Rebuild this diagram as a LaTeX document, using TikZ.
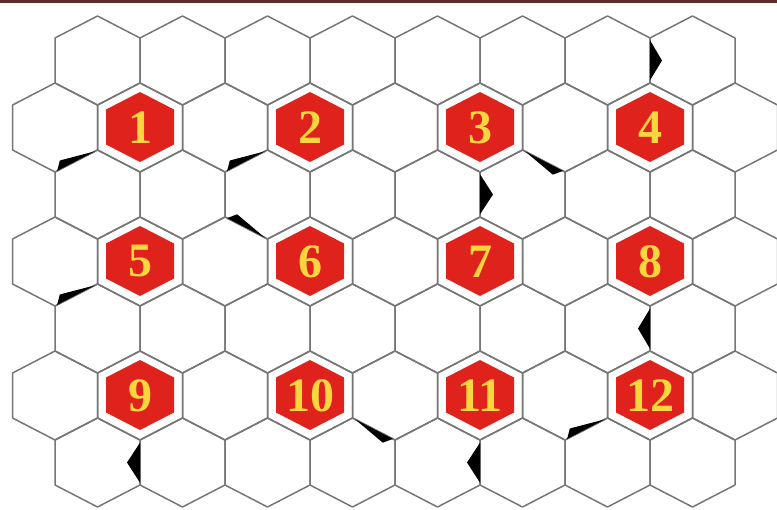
\documentclass[tikz,border=0pt]{standalone}
\usepackage{fontspec}
\setmainfont{Liberation Serif}
\usetikzlibrary{calc}
\definecolor{gridgrey}{RGB}{118,118,118}
\definecolor{cellred}{RGB}{224,34,28}
\definecolor{numyellow}{RGB}{250,214,62}
\definecolor{topband}{RGB}{92,44,40}

% wedge along a grid edge: thick end #1, thin end #2
\newcommand\flagmark[4]{%
  \fill[flag] ($(#1)!0.05!(#2)$) -- ($(#1)!#3!(#2)!#4!90:(#2)$)
    -- ($(#1)!0.94!(#2)$) -- cycle;}

\begin{document}
\begin{tikzpicture}[x=1pt, y=-1pt,
    gridline/.style={draw=gridgrey, line width=1.5pt, line join=round},
    redcell/.style={fill=cellred},
    flag/.style={fill=black},
    numlabel/.style={text=numyellow, inner sep=0pt,
                     font=\fontsize{48}{48}\selectfont\bfseries},
    hexcell/.pic={\draw[gridline] (0,-44.5) -- (42.5,-22.5) -- (42.5,22.5)
      -- (0,44.5) -- (-42.5,22.5) -- (-42.5,-22.5) -- cycle;},
  ]
  \useasboundingbox (0,0) rectangle (777,510);
  \fill[white] (0,0) rectangle (777,510);
  \fill[topband] (0,0) rectangle (777,3.5);

  % Mreza
  \foreach \r in {0,2,4,6}
    \foreach \c in {0,...,7}
      \pic at ({97.5+85*\c},{60.5+67*\r}) {hexcell};
  \foreach \r in {1,3,5}
    \foreach \c in {0,...,8}
      \pic at ({55+85*\c},{60.5+67*\r}) {hexcell};

  % Oznacene celije
  \foreach \n/\cx/\cy in {1/140/127.5, 2/310/127.5, 3/480/127.5, 4/650/127.5,
                          5/140/261.5, 6/310/261.5, 7/480/261.5, 8/650/261.5,
                          9/140/395.5, 10/310/395.5, 11/480/395.5, 12/650/395.5} {
    \fill[redcell] (\cx,\cy) ++(0,-35.5) -- ++(34,17.5) -- ++(0,35)
      -- ++(-34,17.5) -- ++(-34,-17.5) -- ++(0,-35) -- cycle;
    \node[numlabel] (num\n) at (\cx,\cy) {\n};
  }

  % Klinovi
  \flagmark{55,172}{97.5,150}{0.2}{8pt}
  \flagmark{225,172}{267.5,150}{0.2}{8pt}
  \flagmark{565,172}{522.5,150}{0.2}{8pt}
  \flagmark{650,38}{650,83}{0.5}{12pt}
  \flagmark{55,306}{97.5,284}{0.2}{8pt}
  \flagmark{225,217}{267.5,239}{0.2}{8pt}
  \flagmark{480,172}{480,217}{0.5}{13pt}
  \flagmark{650,351}{650,306}{0.5}{12pt}
  \flagmark{140,485}{140,440}{0.5}{13pt}
  \flagmark{395,440}{352.5,418}{0.2}{8pt}
  \flagmark{480,485}{480,440}{0.5}{13pt}
  \flagmark{565,440}{607.5,418}{0.2}{8pt}
\end{tikzpicture}
\end{document}
